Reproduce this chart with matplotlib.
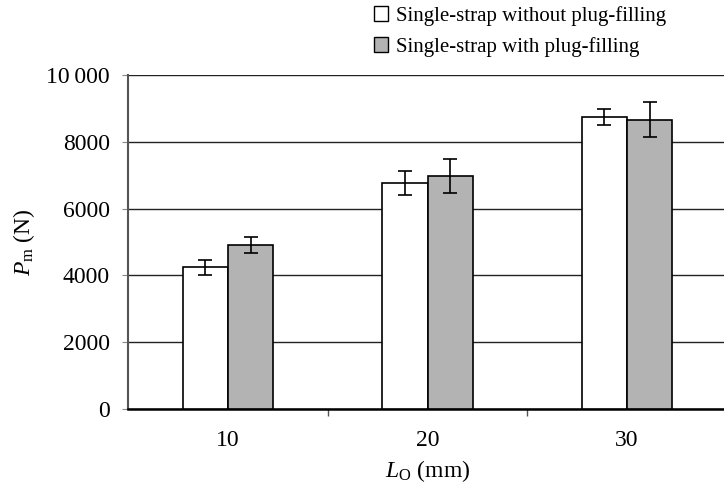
import numpy as np
import matplotlib
matplotlib.use("Agg")
import matplotlib.pyplot as plt
from matplotlib.patches import Patch

plt.rcParams["font.family"] = ["Liberation Serif", "DejaVu Serif"]
plt.rcParams["mathtext.fontset"] = "custom"
plt.rcParams["mathtext.rm"] = "Liberation Serif"
plt.rcParams["mathtext.it"] = "Liberation Serif:italic"

# data
lengths = ["10", "20", "30"]
without_plug = [4240, 6760, 8740]
without_err = [215, 360, 235]
with_plug = [4910, 6970, 8660]
with_err = [240, 500, 530]
y_ticks = [0, 2000, 4000, 6000, 8000, 10000]
y_labels = ["0", "2000", "4000", "6000", "8000", "10\u2009000"]
legend_labels = ["Single-strap without plug-filling", "Single-strap with plug-filling"]

fig = plt.figure(figsize=(7.24, 4.86), dpi=100)
ax = fig.add_axes([0.177, 0.158, 0.827, 0.688])

x = np.arange(len(lengths))
w = 0.227
err_kw = dict(ecolor="black", elinewidth=1.2, capsize=5, capthick=1.2)
ax.bar(x - w / 2, without_plug, w, yerr=without_err, color="white",
       edgecolor="black", linewidth=1.2, error_kw=err_kw, zorder=3)
ax.bar(x + w / 2, with_plug, w, yerr=with_err, color="#b3b3b3",
       edgecolor="black", linewidth=1.2, error_kw=err_kw, zorder=3)

ax.set_xlim(-0.5, 2.5)
ax.set_ylim(0, 10000)
ax.set_yticks(y_ticks)
ax.set_yticklabels(y_labels)
ax.set_xticks(x)
ax.set_xticklabels(lengths)
ax.set_xticks([0.5, 1.5], minor=True)
ax.tick_params(axis="x", which="major", length=0, pad=15, labelsize=17)
ax.tick_params(axis="x", which="minor", length=5, width=1, color="#555555")
ax.tick_params(axis="y", length=4, width=0.8, color="#888888", labelsize=17, pad=9)

ax.yaxis.grid(True, color="#222222", linewidth=1.0, zorder=0)
for s in ["top", "right"]:
    ax.spines[s].set_visible(False)
ax.spines["left"].set_color("#555555")
ax.spines["left"].set_linewidth(1.5)
ax.spines["bottom"].set_linewidth(1.8)

ax.set_xlabel("$L_{\\mathrm{O}}$ (mm)", fontsize=17, labelpad=5)
ax.set_ylabel("$P_{\\mathrm{m}}$ (N)", fontsize=17, labelpad=7)

handles = [Patch(facecolor="white", edgecolor="black", linewidth=1),
           Patch(facecolor="#b3b3b3", edgecolor="black", linewidth=1)]
fig.legend(handles, legend_labels, loc="upper left", bbox_to_anchor=(0.49, 1.027),
           frameon=False, fontsize=15, handlelength=0.7, handleheight=0.7,
           handletextpad=0.4, labelspacing=0.55)

fig.savefig("out.png", dpi=100)
